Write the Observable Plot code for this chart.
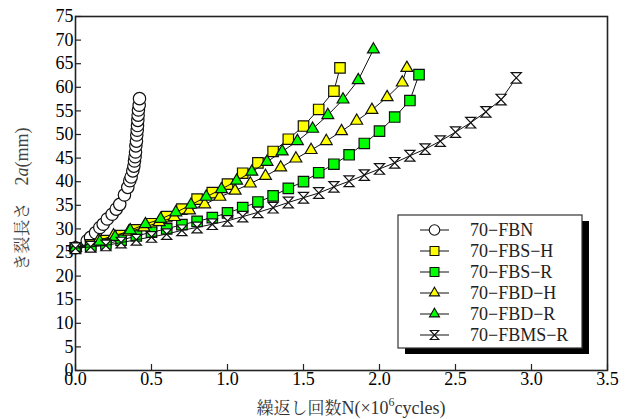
<!DOCTYPE html>
<html>
<head>
<meta charset="utf-8">
<script src="https://cdn.jsdelivr.net/npm/d3@7"></script>
<script src="https://cdn.jsdelivr.net/npm/@observablehq/plot@0.6"></script>
<style>
  body { margin: 0; background: #fff; }
  #chart { position: relative; width: 626px; height: 419px; font-family: "Liberation Serif", serif; }
  #chart svg text, #chart svg tspan { font-family: "Liberation Serif", serif !important; }
  #chart svg text .jp, #chart svg tspan.jp { font-family: "Noto Serif CJK JP", "Liberation Serif", serif !important; }
</style>
</head>
<body>
<div id="chart"></div>
<script>
// Crack length 2a (mm) against number of cycles N (×10^6)
const seriesNames = ["70−FBN", "70−FBS−H", "70−FBS−R", "70−FBD−H", "70−FBD−R", "70−FBMS−R"];

const fbnN = [0, 0.077, 0.099, 0.132, 0.160, 0.182, 0.209, 0.241, 0.268, 0.291, 0.322, 0.344, 0.357, 0.366, 0.377, 0.384, 0.388, 0.392, 0.395, 0.397, 0.401, 0.403, 0.406, 0.408, 0.410, 0.412, 0.414, 0.419, 0.421];
const fbnA = [26.0, 27.5, 28.2, 29.2, 30.3, 31.0, 32.1, 33.1, 34.2, 35.2, 37.2, 38.8, 40.2, 41.0, 42.3, 43.3, 44.4, 45.3, 46.3, 47.6, 48.6, 49.9, 50.9, 51.9, 53.0, 54.1, 55.2, 56.2, 57.6];

const fbshN = [0, 0.1, 0.2, 0.3, 0.4, 0.5, 0.6, 0.7, 0.8, 0.9, 1.0, 1.1, 1.2, 1.3, 1.4, 1.5, 1.6, 1.7, 1.74];
const fbshA = [26.0, 26.6, 27.5, 28.6, 29.8, 31.1, 32.6, 34.2, 36.3, 37.7, 39.5, 41.8, 44.0, 46.4, 49.0, 51.8, 55.3, 59.2, 64.1];

const fbsrN = [0, 0.1, 0.2, 0.3, 0.4, 0.5, 0.6, 0.7, 0.8, 0.9, 1.0, 1.1, 1.2, 1.3, 1.4, 1.5, 1.6, 1.7, 1.8, 1.9, 2.0, 2.1, 2.2, 2.26];
const fbsrA = [26.0, 26.3, 26.8, 27.6, 28.5, 29.3, 30.0, 30.9, 31.6, 32.4, 33.4, 34.5, 35.7, 37.0, 38.6, 40.0, 41.9, 43.7, 45.7, 48.1, 50.7, 53.7, 57.2, 62.7];

const fbdhN = [0, 0.15, 0.25, 0.35, 0.45, 0.55, 0.65, 0.75, 0.85, 0.95, 1.05, 1.15, 1.25, 1.35, 1.45, 1.55, 1.65, 1.75, 1.85, 1.95, 2.05, 2.15, 2.18];
const fbdhA = [26.0, 27.5, 28.6, 29.4, 30.3, 31.4, 32.5, 33.9, 35.2, 36.8, 38.1, 39.6, 41.2, 43.0, 44.9, 46.7, 48.6, 50.7, 52.9, 55.2, 57.9, 61.0, 64.1];

const fbdrN = [0, 0.16, 0.26, 0.36, 0.46, 0.56, 0.66, 0.76, 0.86, 0.96, 1.06, 1.16, 1.26, 1.36, 1.46, 1.56, 1.66, 1.76, 1.86, 1.96];
const fbdrA = [26.0, 27.3, 28.3, 29.7, 31.0, 32.1, 33.5, 35.1, 36.8, 38.4, 40.2, 42.1, 44.2, 46.4, 48.6, 51.2, 54.1, 57.4, 61.5, 68.0];

const fbmsN = [0, 0.1, 0.2, 0.3, 0.4, 0.5, 0.6, 0.7, 0.8, 0.9, 1.0, 1.1, 1.2, 1.3, 1.4, 1.5, 1.6, 1.7, 1.8, 1.9, 2.0, 2.1, 2.2, 2.3, 2.4, 2.5, 2.6, 2.7, 2.8, 2.9];
const fbmsA = [25.9, 26.2, 26.5, 27.1, 27.7, 28.3, 28.9, 29.7, 30.3, 31.0, 31.7, 32.6, 33.5, 34.5, 35.6, 36.6, 37.6, 38.9, 40.1, 41.4, 42.7, 44.0, 45.5, 46.9, 48.6, 50.5, 52.5, 54.8, 57.4, 62.0];

const xTicks = [0, 0.5, 1.0, 1.5, 2.0, 2.5, 3.0, 3.5];
const yTicks = [0, 5, 10, 15, 20, 25, 30, 35, 40, 45, 50, 55, 60, 65, 70, 75];

// hourglass marker: top bar, crossing diagonals, bottom bar
const hourglass = {
  draw(ctx, size) {
    const h = Math.sqrt(size) / 2;
    const w = h * 0.95;
    ctx.moveTo(-w, -h); ctx.lineTo(w, -h); ctx.lineTo(-w, h); ctx.lineTo(w, h); ctx.closePath();
  }
};

const styles = [
  {symbol: d3.symbolCircle, fill: "#ffffff", r: 6.2},
  {symbol: d3.symbolSquare, fill: "#ffff00", r: 5.9},
  {symbol: d3.symbolSquare, fill: "#00ff00", r: 5.9},
  {symbol: d3.symbolTriangle, fill: "#ffff00", r: 4.4},
  {symbol: d3.symbolTriangle, fill: "#00ff00", r: 4.4},
  {symbol: hourglass, fill: "#ffffff", r: 6}
];

const seriesData = [[fbnN, fbnA], [fbshN, fbshA], [fbsrN, fbsrA], [fbdhN, fbdhA], [fbdrN, fbdrA], [fbmsN, fbmsA]];
const series = seriesData.map(([ns, as], i) => ns.map((n, j) => ({name: seriesNames[i], N: n, a: as[j]})));

const W = 626, H = 419, mL = 75, mR = 19, mT = 16, mB = 49;
const frameW = W - mL - mR, frameH = H - mT - mB, tickLen = 6;

const serif = "Liberation Serif, serif";

const marks = [
  Plot.frame({stroke: "#222", strokeWidth: 1.6}),
  Plot.ruleX(xTicks, {x: d => d, insetTop: frameH - tickLen, stroke: "#222", strokeWidth: 1.2}),
  Plot.ruleY(yTicks, {y: d => d, insetRight: frameW - tickLen, stroke: "#222", strokeWidth: 1.2}),
  Plot.axisX({ticks: xTicks, tickSize: 0, tickPadding: 2, tickFormat: d3.format(".1f"), label: null}),
  Plot.axisY({ticks: yTicks, tickSize: 0, tickPadding: 2, label: null})
];
series.forEach((rows, i) => {
  const s = styles[i];
  marks.push(Plot.line(rows, {x: "N", y: "a", stroke: "#111", strokeWidth: 1}));
  marks.push(Plot.dot(rows, {x: "N", y: "a", symbol: s.symbol, r: s.r, fill: s.fill, stroke: "#111", strokeWidth: 1.2}));
});

const chart = Plot.plot({
  width: W, height: H,
  marginLeft: mL, marginRight: mR, marginTop: mT, marginBottom: mB,
  x: {domain: [0, 3.5]},
  y: {domain: [0, 75]},
  style: {fontFamily: serif, fontSize: "18px", color: "#000", background: "#fff"},
  marks
});
document.getElementById("chart").appendChild(chart);

const svg = d3.select(chart);

// axis titles
const yl = svg.append("text")
  .attr("transform", "translate(24,199) rotate(-90)")
  .attr("text-anchor", "middle").attr("dominant-baseline", "middle")
  .attr("font-size", 18).attr("fill", "#444");
yl.append("tspan").attr("class", "jp").attr("font-size", 17).text("き裂長さ　");
yl.append("tspan").text("2");
yl.append("tspan").attr("font-style", "italic").text("a");
yl.append("tspan").text("(mm)");

const xl = svg.append("text")
  .attr("x", 351).attr("y", 414).attr("text-anchor", "middle")
  .attr("font-size", 18).attr("fill", "#333");
xl.append("tspan").attr("class", "jp").attr("font-size", 17).text("繰返し回数");
xl.append("tspan").text("N(×10");
xl.append("tspan").attr("font-size", 12).attr("dy", -8).text("6");
xl.append("tspan").attr("dy", 8).text("cycles)");

// legend box with drop shadow
const lg = svg.append("g").attr("transform", "translate(398,215)");
lg.append("rect").attr("x", 7).attr("y", 6).attr("width", 184).attr("height", 133).attr("fill", "#000");
lg.append("rect").attr("x", 0).attr("y", 0).attr("width", 184).attr("height", 133)
  .attr("fill", "#fff").attr("stroke", "#333").attr("stroke-width", 1.2);
seriesNames.forEach((name, i) => {
  const y = 15 + i * 21;
  const s = styles[i];
  lg.append("line").attr("x1", 22).attr("x2", 51).attr("y1", y).attr("y2", y).attr("stroke", "#111").attr("stroke-width", 1);
  lg.append("path").attr("transform", `translate(36.5,${y})`)
    .attr("d", d3.symbol(s.symbol, Math.PI * (s.r * 0.85) ** 2)())
    .attr("fill", s.fill).attr("stroke", "#111").attr("stroke-width", 1.1);
  lg.append("text").attr("x", 72).attr("y", y).attr("dy", "0.35em").attr("text-anchor", "start")
    .attr("font-size", 18).attr("fill", "#222").text(name);
});
</script>
</body>
</html>
